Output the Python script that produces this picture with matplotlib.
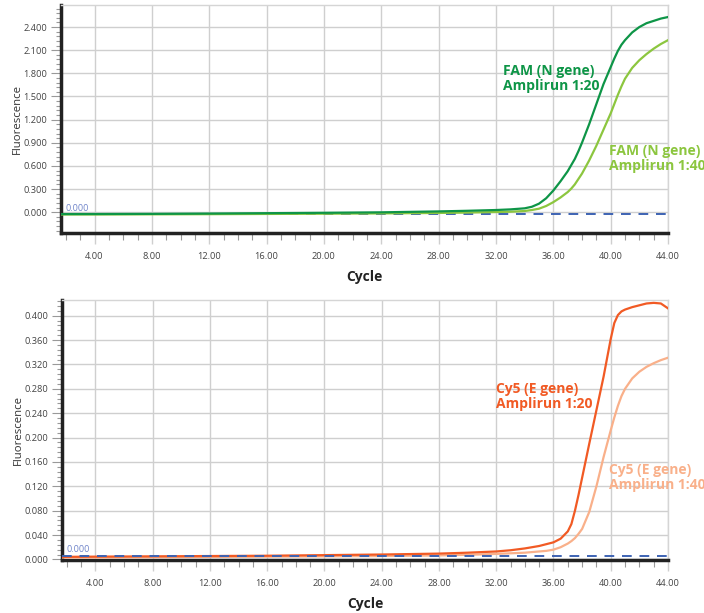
import matplotlib.pyplot as plt
from matplotlib.ticker import MultipleLocator, FormatStrFormatter

plt.rcParams['font.family'] = ['Open Sans', 'DejaVu Sans']

# cycle positions (denser where the curves rise)
cycles = [1, 4, 8, 12, 16, 20, 24, 28, 30, 32, 33, 34, 34.5, 35, 35.5, 36, 36.5, 37, 37.25,
          37.5, 37.75, 38, 38.5, 39, 39.5, 40, 40.25, 40.5, 40.75, 41, 41.5, 42, 42.5, 43,
          43.5, 44]

fam_20 = [-0.025, -0.024, -0.022, -0.018, -0.013, -0.008, -0.002, 0.01, 0.018, 0.028, 0.036, 0.05,
          0.07, 0.11, 0.18, 0.28, 0.4, 0.53, 0.61, 0.69, 0.79, 0.9, 1.14, 1.4, 1.66, 1.88,
          1.99, 2.09, 2.17, 2.23, 2.33, 2.4, 2.45, 2.48, 2.51, 2.53]
fam_40 = [-0.03, -0.03, -0.028, -0.026, -0.023, -0.02, -0.016, -0.01, -0.005, 0.002, 0.006, 0.015,
          0.028, 0.045, 0.08, 0.13, 0.19, 0.26, 0.305, 0.36, 0.43, 0.5, 0.67, 0.86, 1.07, 1.28,
          1.4, 1.52, 1.63, 1.73, 1.87, 1.97, 2.05, 2.12, 2.18, 2.23]
cy5_20 = [0.004, 0.0045, 0.005, 0.0055, 0.006, 0.007, 0.008, 0.0095, 0.011, 0.013, 0.015, 0.018,
          0.02, 0.022, 0.025, 0.028, 0.034, 0.046, 0.058, 0.08, 0.106, 0.134, 0.19, 0.245, 0.30,
          0.362, 0.388, 0.401, 0.407, 0.41, 0.414, 0.417, 0.42, 0.421, 0.42, 0.412]
cy5_40 = [0.003, 0.003, 0.0035, 0.004, 0.0045, 0.005, 0.0055, 0.0065, 0.0075, 0.009, 0.01, 0.011,
          0.012, 0.013, 0.014, 0.016, 0.02, 0.026, 0.03, 0.035, 0.042, 0.05, 0.078, 0.12, 0.168,
          0.212, 0.233, 0.252, 0.268, 0.28, 0.297, 0.308, 0.316, 0.322, 0.327, 0.331]

thr_top = -0.025
thr_bottom = 0.006

fig = plt.figure(figsize=(7.04, 6.13), dpi=100)
ax1 = fig.add_axes([61/704, 1-233/613, 607/704, 228/613])
ax2 = fig.add_axes([62/704, 1-560/613, 606/704, 260/613])


def style(ax, ymaj, ymin, ylim):
    ax.set_xlim(1.66, 44)
    ax.set_ylim(*ylim)
    ax.xaxis.set_major_locator(MultipleLocator(4))
    ax.xaxis.set_minor_locator(MultipleLocator(1))
    ax.yaxis.set_major_locator(MultipleLocator(ymaj))
    ax.yaxis.set_minor_locator(MultipleLocator(ymin))
    ax.xaxis.set_major_formatter(FormatStrFormatter('%.2f'))
    ax.yaxis.set_major_formatter(FormatStrFormatter('%.3f'))
    ax.grid(True, which='major', color='#cfcfcf', lw=1)
    ax.set_axisbelow(True)
    for s in ['top', 'right']:
        ax.spines[s].set_color('#d5d5d5')
        ax.spines[s].set_linewidth(1)
    for s in ['left', 'bottom']:
        ax.spines[s].set_color('#222222')
        ax.spines[s].set_linewidth(2.5)
    ax.tick_params(axis='x', which='major', length=8, width=1, color='#cfcfcf',
                   labelsize=6.7, labelcolor='#444444', pad=6)
    ax.tick_params(axis='x', which='minor', length=5, width=0.8, color='#999999')
    ax.tick_params(axis='y', which='major', length=7, width=0.8, color='#999999',
                   labelsize=6.7, labelcolor='#444444', pad=3)
    ax.tick_params(axis='y', which='minor', length=3.5, width=0.8, color='#999999')
    ax.set_xlabel('Cycle', fontsize=10, fontweight='bold', color='#222222', labelpad=6)
    ax.set_ylabel('Fluorescence', fontsize=8.2, color='#333333', labelpad=0)


# top panel: FAM
style(ax1, 0.3, 0.06, (-0.27, 2.686))
ax1.axhline(thr_top, color='#3d63b3', lw=1.4, ls=(0, (5, 4)), zorder=3)
ax1.plot(cycles, fam_40, color='#8cc63f', lw=1.6, zorder=4)
ax1.plot(cycles, fam_20, color='#0e9547', lw=1.6, zorder=5)
ax1.annotate('0.000', xy=(1.66, thr_top), xytext=(3, 2.5), textcoords='offset points',
             fontsize=6.5, color='#6f84c9')
ax1.text(32.5, 1.92, 'FAM (N gene)\nAmplirun 1:20', color='#0e9547', fontsize=10,
         fontweight='bold', va='top', ha='left', linespacing=1.1)
# the 1:40 labels run past the right edge, as in the original
ax1.text(39.9, 0.88, 'FAM (N gene)\nAmplirun 1:40', color='#8cc63f', fontsize=10,
         fontweight='bold', va='top', ha='left', linespacing=1.1)

# bottom panel: Cy5
style(ax2, 0.04, 0.008, (-0.001, 0.4257))
ax2.axhline(thr_bottom, color='#3d63b3', lw=1.4, ls=(0, (5, 4)), zorder=6)
ax2.plot(cycles, cy5_40, color='#f9b08a', lw=1.6, zorder=4)
ax2.plot(cycles, cy5_20, color='#f15a24', lw=1.6, zorder=5)
ax2.annotate('0.000', xy=(1.66, thr_bottom), xytext=(3, 2.5), textcoords='offset points',
             fontsize=6.5, color='#6f84c9')
ax2.text(32.0, 0.291, 'Cy5 (E gene)\nAmplirun 1:20', color='#f15a24', fontsize=10,
         fontweight='bold', va='top', ha='left', linespacing=1.1)
ax2.text(39.9, 0.159, 'Cy5 (E gene)\nAmplirun 1:40', color='#f9b08a', fontsize=10,
         fontweight='bold', va='top', ha='left', linespacing=1.1)

fig.savefig('out.png', dpi=100)
